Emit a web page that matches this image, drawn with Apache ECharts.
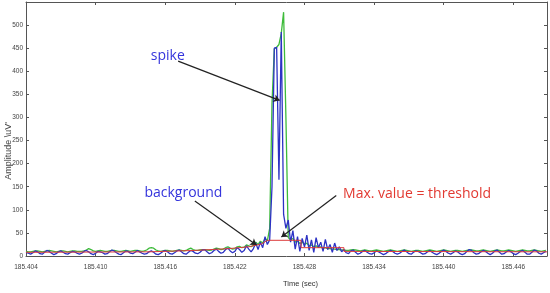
<!DOCTYPE html>
<html><head><meta charset="utf-8">
<script src="https://cdn.jsdelivr.net/npm/echarts@6/dist/echarts.min.js"></script>
<style>html,body{margin:0;padding:0;background:#fff}#c{width:550px;height:293px}</style>
</head><body><div id="c"></div>
<script>
// sampling grid of the recorded trace (s)
const sampleStart = 185.4040;
const sampleStep = 0.0002;

// filtered trace (blue), µV
const blueValues = [
  8, 6, 4, 7, 11, 9, 5, 4, 8, 12, 10, 6, 3, 5, 9, 11, 8, 5, 4, 7, 10, 9, 6, 4, 6,
  10, 12, 9, 5, 3, 6, 10, 9, 7, 4, 5, 9, 13, 11, 7, 4, 3, 7, 11, 10, 6, 5, 8, 12, 9,
  6, 4, 5, 9, 11, 8, 4, 3, 6, 10, 12, 9, 5, 4, 7, 11, 13, 9, 5, 4, 8, 12, 10, 6, 5,
  8, 13, 14, 9, 5, 7, 12, 15, 10, 6, 8, 14, 17, 11, 7, 10, 18, 14, 8, 12, 22, 15, 9, 16, 28,
  14, 30, 18, 42, 25,
  35, 150, 450, 452, 165, 485, 90, 60, 78,
  30, 55, 15, 42, 10, 38, 20, 45, 12, 35, 8, 40, 18, 30, 10, 36, 14, 25, 8, 28, 12, 20,
  9, 14, 7, 5, 11, 13, 8, 4, 6, 10, 12, 8, 5, 4, 7, 11, 9, 6, 3, 5, 9, 12, 10, 6, 4,
  6, 10, 13, 9, 5, 4, 8, 11, 10, 7, 4, 5, 9, 12, 8, 5, 3, 6, 10, 13, 10, 6, 4, 7, 11,
  9, 5, 3, 5, 10, 14, 12, 7, 4, 5, 9, 12, 10, 6, 3, 6, 11, 13, 8, 4, 5, 9, 12, 9, 5,
  3, 6, 10, 12, 8, 4, 4, 8, 13, 11, 6, 4, 7, 10
];

// raw envelope (green), µV
const greenValues = [
  10, 9, 9, 10, 11, 11, 10, 9, 10, 11, 12, 11, 10, 9, 10, 11, 11, 10, 9, 10, 11, 11, 10, 10, 10,
  11, 13, 16, 14, 11, 10, 11, 12, 11, 10, 10, 11, 12, 12, 11, 10, 10, 11, 12, 11, 10, 11, 12, 12, 11,
  10, 11, 13, 17, 18, 17, 13, 11, 10, 11, 12, 12, 11, 10, 11, 12, 13, 12, 11, 12, 15, 17, 14, 12, 12,
  13, 14, 14, 13, 12, 13, 15, 17, 16, 14, 15, 18, 20, 17, 15, 16, 20, 21, 18, 19, 24, 22, 20, 23, 30,
  25, 32, 28, 38, 33,
  60, 330, 448, 452, 458, 482, 528, 300, 40,
  35, 38, 30, 33, 27, 30, 25, 28, 22, 24, 20, 22, 19, 20, 17, 18, 16, 16, 15, 15, 14, 14,
  13, 13, 12, 12, 13, 14, 13, 12, 11, 12, 13, 12, 11, 11, 12, 13, 12, 11, 10, 11, 12, 13, 12, 11, 10,
  11, 12, 13, 12, 11, 10, 11, 12, 12, 11, 10, 11, 12, 13, 12, 11, 10, 11, 12, 13, 12, 11, 10, 11, 12,
  12, 11, 10, 11, 12, 13, 13, 12, 11, 11, 12, 13, 12, 11, 10, 11, 12, 13, 12, 11, 11, 12, 13, 12, 11,
  10, 11, 12, 13, 12, 11, 11, 12, 13, 12, 11, 10, 11, 12
];

// threshold (red) step line
const redTimes  = [185.4040, 185.4146, 185.4185, 185.4215, 185.4232, 185.4243, 185.4248, 185.4277, 185.4277, 185.4314, 185.4314, 185.4489];
const redValues = [8, 9, 12, 16, 20, 26, 34, 34, 18, 18, 10, 9];

// axes
const xTickStart = 185.404;
const xTickStep = 0.006;
const xEnd = 185.4489;
const yStart = 0;
const yTickStep = 50;
const yEnd = 550;

// annotations (data coordinates)
const noteTexts = ['spike', 'background', 'Max. value = threshold'];
const noteColors = ['#3434dc', '#3434dc', '#e23a32'];
const noteAt = [[185.41622, 432], [185.41756, 137], [185.43770, 134]];
const arrowFrom = [[185.41711, 422], [185.41855, 119], [185.43074, 131]];
const arrowTo   = [[185.42586, 337], [185.42386, 24], [185.42601, 41]];

const blueData = blueValues.map((v, i) => [sampleStart + i * sampleStep, v]);
const greenData = greenValues.map((v, i) => [sampleStart + i * sampleStep, v]);
const redData = redTimes.map((t, i) => [t, redValues[i]]);

const axisCol = '#555';
const baseX = {
  type: 'value', min: xTickStart, max: xEnd, interval: xTickStep,
  axisLine: { show: true, onZero: false, lineStyle: { color: axisCol, width: 1 } },
  axisTick: { show: true, inside: true, length: 3, lineStyle: { color: axisCol } },
  splitLine: { show: false }
};
const baseY = {
  type: 'value', min: yStart, max: yEnd, interval: yTickStep,
  axisLine: { show: true, onZero: false, lineStyle: { color: axisCol, width: 1 } },
  axisTick: { show: true, inside: true, length: 3, lineStyle: { color: axisCol } },
  splitLine: { show: false }
};

const chart = echarts.init(document.getElementById('c'), null, { renderer: 'canvas' });
chart.setOption({
  animation: false,
  backgroundColor: '#fff',
  grid: { left: 26, right: 3, top: 2, bottom: 30, containLabel: false },
  xAxis: [
    Object.assign({}, baseX, {
      position: 'bottom',
      axisLabel: { show: true, fontSize: 6.5, color: '#444', margin: 8, showMaxLabel: false,
        fontFamily: 'Liberation Sans', formatter: v => v.toFixed(3) },
      name: 'Time (sec)', nameLocation: 'middle', nameGap: 24,
      nameTextStyle: { fontSize: 7.5, color: '#333', fontFamily: 'Liberation Sans', padding: [0, 0, 0, 28] }
    }),
    Object.assign({}, baseX, { position: 'top', axisLabel: { show: false } })
  ],
  yAxis: [
    Object.assign({}, baseY, {
      position: 'left',
      axisLabel: { show: true, fontSize: 6.5, color: '#444', margin: 3, showMaxLabel: false,
        fontFamily: 'Liberation Sans' }
    }),
    Object.assign({}, baseY, { position: 'right', axisLabel: { show: false } })
  ],
  graphic: [{
    type: 'text', x: 9, y: 151, rotation: Math.PI / 2,
    style: { text: 'Amplitude \\uV\'', fontSize: 9, fill: '#444', fontFamily: 'Liberation Sans',
      textAlign: 'center', textVerticalAlign: 'middle', align: 'center', verticalAlign: 'middle' }
  }],
  series: [
    { name: 'raw', type: 'line', data: greenData, showSymbol: false, symbol: 'none',
      lineStyle: { color: '#3dbb3a', width: 1.3 }, z: 2 },
    { name: 'filtered', type: 'line', data: blueData, showSymbol: false, symbol: 'none',
      lineStyle: { color: '#2c32c4', width: 1.3 }, z: 3 },
    { name: 'threshold', type: 'line', data: redData, showSymbol: false, symbol: 'none',
      lineStyle: { color: '#dd3b3b', width: 1 }, z: 4,
      markLine: {
        silent: true, symbol: ['none', 'arrow'], symbolSize: 6, animation: false,
        label: { show: false },
        lineStyle: { color: '#222', width: 1.2, type: 'solid' },
        emphasis: { disabled: true },
        data: arrowFrom.map((p, i) => [{ coord: p }, { coord: arrowTo[i] }])
      },
      markPoint: {
        silent: true, symbol: 'circle', symbolSize: 0, animation: false,
        data: noteTexts.map((t, i) => ({
          name: t, coord: noteAt[i],
          label: { show: true, position: 'inside', formatter: t, color: noteColors[i],
            fontSize: 14, fontFamily: 'Open Sans' }
        }))
      }
    }
  ]
});
</script>
</body></html>
